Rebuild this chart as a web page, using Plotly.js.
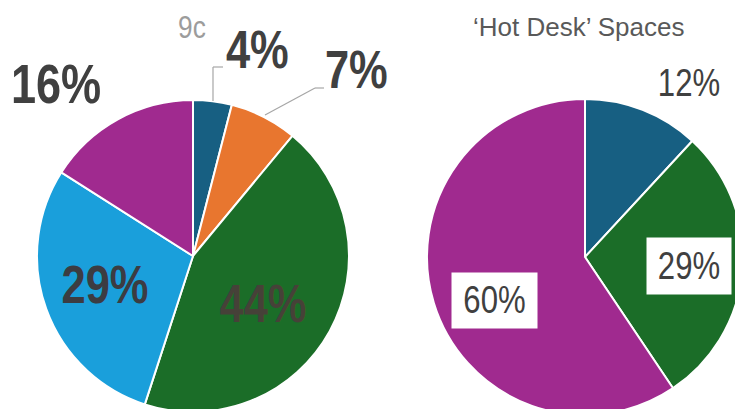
<!DOCTYPE html>
<html><head><meta charset="utf-8">
<script src="https://cdn.plot.ly/plotly-3.0.1.min.js"></script>
<style>html,body{margin:0;padding:0;overflow:hidden;background:#fff;width:735px;height:409px;}#chart{width:800px;height:430px;}</style>
</head><body><div id="chart"></div>
<script>
// Left pie
const leftLabels = ['A','B','C','D','E'];
const leftValues = [4, 7, 44, 29, 16];
const leftColors = ['#175f82','#e8762f','#1b6d28','#1a9fdb','#a02a8f'];
const leftTitle = '9c';
// Right pie: 'Hot Desk' Spaces
const rightLabels = ['A','C','E'];
const rightValues = [12, 29, 60];
const rightColors = ['#175f82','#1b6d28','#a02a8f'];
const rightTitle = '\u2018Hot Desk\u2019 Spaces';

const W = 800, H = 430;
const px = x => x / W, py = y => (H - y) / H;
const FONT = '"Liberation Sans", Arial, sans-serif';

const traces = [
  {type:'pie', labels:leftLabels, values:leftValues, sort:false, direction:'clockwise', rotation:0,
   marker:{colors:leftColors, line:{color:'#ffffff', width:2}}, textinfo:'none', hoverinfo:'none',
   domain:{x:[px(37), px(349)], y:[py(412), py(100)]}, showlegend:false},
  {type:'pie', labels:rightLabels, values:rightValues, sort:false, direction:'clockwise', rotation:0,
   marker:{colors:rightColors, line:{color:'#ffffff', width:2}}, textinfo:'none', hoverinfo:'none',
   domain:{x:[px(427), px(743)], y:[py(415), py(99)]}, showlegend:false}
];

const pct = v => v + '%';
const bold = (size, color) => ({family:FONT, size:size, color:color || '#404040'});
const ann = (x, y, text, font, extra) => Object.assign({xref:'paper', yref:'paper', x:px(x), y:py(y), text:text,
  showarrow:false, xanchor:'center', yanchor:'middle', font:font}, extra || {});

// narrow flags: which annotations get condensed horizontally
const annotations = [
  ann(192, 27, leftTitle, {family:FONT, size:32, color:'#9c9c9c'}),
  ann(578, 27, rightTitle, {family:FONT, size:26, color:'#595959'}),
  ann(257, 49, '<b>' + pct(leftValues[0]) + '</b>', bold(53)),
  ann(356, 69, '<b>' + pct(leftValues[1]) + '</b>', bold(53)),
  ann(56, 84, '<b>' + pct(leftValues[4]) + '</b>', bold(55)),
  ann(105, 284, '<b>' + pct(leftValues[3]) + '</b>', bold(53, '#3c3c42')),
  ann(263, 303, '<b>' + pct(leftValues[2]) + '</b>', bold(53, 'rgba(78,58,60,0.85)')),
  ann(689, 83, pct(rightValues[0]), {family:FONT, size:38, color:'#404040'}),
  ann(689, 266, pct(rightValues[1]), {family:FONT, size:38, color:'#404040'},
      {bgcolor:'#ffffff', borderpad:0, width:84, height:56}),
  ann(494, 300, pct(rightValues[2]), {family:FONT, size:38, color:'#404040'},
      {bgcolor:'#ffffff', borderpad:0, width:85, height:55})
];
const narrow = [true, false, true, true, true, true, true, true, true, true];

const lineStyle = {color:'#a6a6a6', width:1.2};
const seg = (x0,y0,x1,y1) => ({type:'line', xref:'paper', yref:'paper', x0:px(x0), y0:py(y0), x1:px(x1), y1:py(y1), line:lineStyle});
const shapes = [
  seg(213, 101, 213, 67), seg(213, 67, 223, 67),
  seg(265, 115, 315, 88), seg(315, 88, 324, 88)
];

Plotly.newPlot('chart', traces, {
  width: W, height: H, margin:{l:0, r:0, t:0, b:0},
  paper_bgcolor:'#ffffff', plot_bgcolor:'#ffffff',
  annotations: annotations, shapes: shapes, showlegend:false
}, {displayModeBar:false, staticPlot:true}).then(gd => {
  const groups = gd.querySelectorAll('.annotation');
  groups.forEach((g, i) => {
    if (!narrow[i]) return;
    const t = g.querySelector('text.annotation-text');
    if (!t) return;
    const b = t.getBBox();
    const cx = b.x + b.width / 2;
    t.setAttribute('transform', `translate(${cx},0) scale(0.82,1) translate(${-cx},0)`);
  });
});
</script></body></html>
